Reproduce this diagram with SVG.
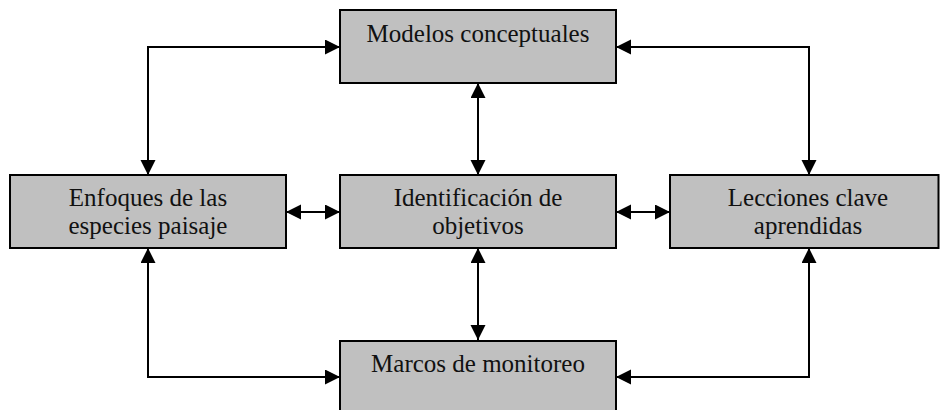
<svg xmlns="http://www.w3.org/2000/svg" width="940" height="410" viewBox="0 0 940 410">
<style>
.box{fill:#c0c0c0;stroke:#000;stroke-width:2}
.lbl{font-family:"Liberation Serif","Times New Roman",serif;font-size:25px;fill:#111;text-anchor:middle}
.con{fill:none;stroke:#000;stroke-width:2;marker-start:url(#ah);marker-end:url(#ah)}
</style>
<defs>
<marker id="ah" markerUnits="userSpaceOnUse" markerWidth="16" markerHeight="16" refX="15" refY="7.5" orient="auto-start-reverse">
<path d="M0,0 L15,7.5 L0,15 z" fill="#000"/>
</marker>
</defs>
<rect width="940" height="410" fill="#fff"/>
<g id="connectors">
<path class="con" d="M340,47 H148 V175"/>
<path class="con" d="M340,377 H148 V248"/>
<path class="con" d="M616,47 H809 V175"/>
<path class="con" d="M616,377 H809 V248"/>
<path class="con" d="M478,83 V175"/>
<path class="con" d="M478,248 V340"/>
<path class="con" d="M286,212 H340"/>
<path class="con" d="M616,212 H670"/>
</g>
<g id="modelos">
<rect class="box" x="340" y="10" width="276" height="73"/>
<text class="lbl" x="478" y="42">Modelos conceptuales</text>
</g>
<g id="enfoques">
<rect class="box" x="10" y="175" width="276" height="73"/>
<text class="lbl" x="148" y="206">Enfoques de las</text>
<text class="lbl" x="148" y="234">especies paisaje</text>
</g>
<g id="identificacion">
<rect class="box" x="340" y="175" width="276" height="73"/>
<text class="lbl" x="478" y="206">Identificación de</text>
<text class="lbl" x="478" y="234">objetivos</text>
</g>
<g id="lecciones">
<rect class="box" x="670" y="175" width="268.5" height="73"/>
<text class="lbl" x="808" y="206">Lecciones clave</text>
<text class="lbl" x="808" y="234">aprendidas</text>
</g>
<g id="marcos">
<rect class="box" x="340" y="341" width="276" height="80"/>
<text class="lbl" x="478" y="372">Marcos de monitoreo</text>
</g>
</svg>
